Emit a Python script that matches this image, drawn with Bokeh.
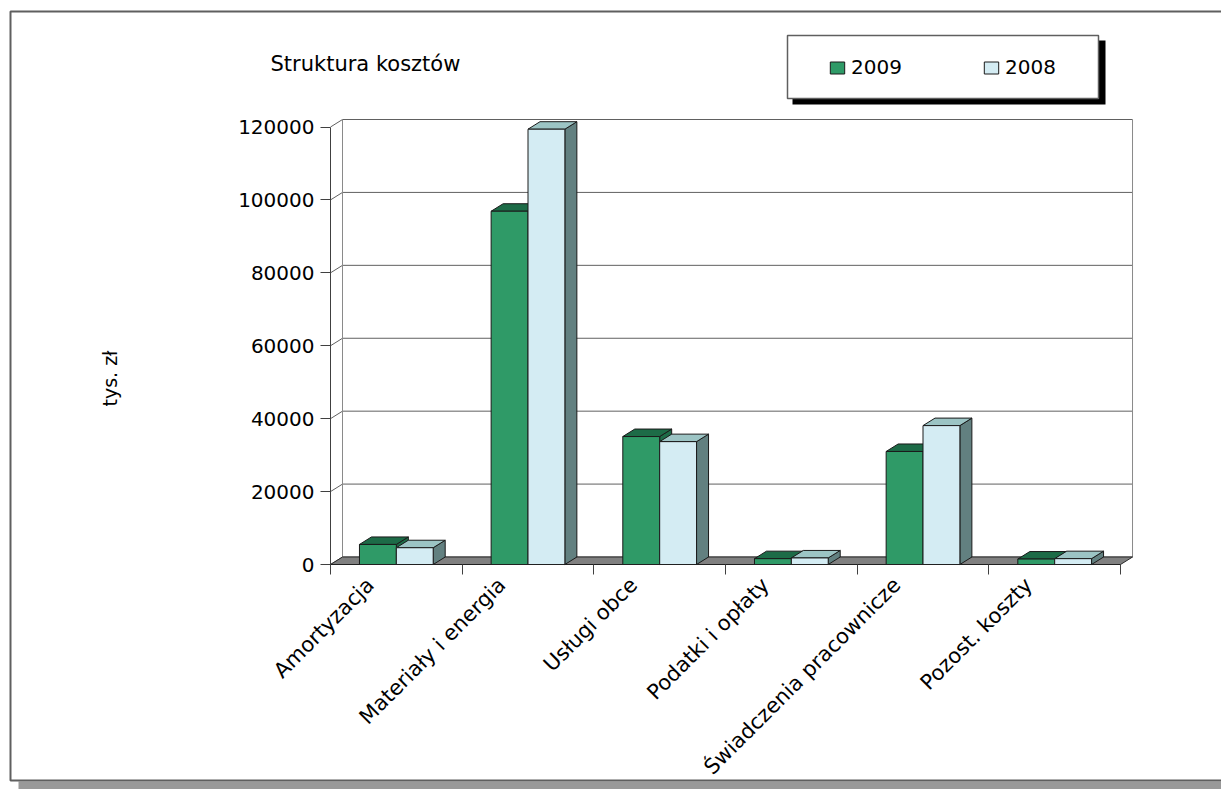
import numpy as np
from bokeh.plotting import figure
from bokeh.models import Range1d, LinearAxis, FixedTicker, Legend, LegendItem
from bokeh.core.properties import value
from bokeh.embed import file_html
from bokeh.resources import INLINE

# ---------------- data ----------------
categories = ["Amortyzacja", "Materiały i energia", "Usługi obce",
              "Podatki i opłaty", "Świadczenia pracownicze", "Pozost. koszty"]
series_names = ["2009", "2008"]
values_2009 = [5500, 96900, 35100, 1600, 31000, 1500]
values_2008 = [4600, 119400, 33700, 1800, 38100, 1600]
y_ticks = [0, 20000, 40000, 60000, 80000, 100000, 120000]
title_text = "Struktura kosztów"
y_label = "tys. zł"

# ---------------- geometry (pixel layout of the page) ----------------
W, H = 1221, 789
X0, CW = 330.0, 131.67          # px of first category edge, px per category
Y0, VS = 564.0, 437.5 / 120000  # px of zero, px per value unit
DXP, DYP = 12.0, 7.5            # depth offset in px

def PX(px):
    return (px - X0) / CW

def PY(py):
    return (Y0 - py) / VS

DX = DXP / CW
DY = DYP / VS
NC = len(categories)
BW = 0.28

FONT = "DejaVu Sans"
GREEN, GREEN_TOP = "#2f9a67", "#1d6b47"
LIGHT, LIGHT_TOP, LIGHT_SIDE = "#d4ecf3", "#9cc4c4", "#628080"
EDGE = "#1a1a1a"

p = figure(width=W, height=H, x_range=Range1d(PX(0), PX(W)), y_range=Range1d(PY(H), PY(0)),
           output_backend="svg", toolbar_location=None, min_border=0,
           x_axis_location=None, y_axis_location=None,
           outline_line_color=None, background_fill_color="white", border_fill_color="white")
p.grid.visible = False

# outer chart area with shadow
p.quad(left=[PX(18)], right=[PX(1240)], top=[PY(781)], bottom=[PY(800)],
       fill_color="#999999", line_color=None)
p.quad(left=[PX(10)], right=[PX(1240)], top=[PY(11)], bottom=[PY(780)],
       fill_color="white", line_color="#5f5f5f", line_width=2)

# back wall gridlines + left wall connectors
yt = np.array(y_ticks, dtype=float)
p.segment(x0=[DX] * len(yt), y0=yt + DY, x1=[NC + DX] * len(yt), y1=yt + DY,
          line_color="#606060", line_width=1)
p.segment(x0=[0] * len(yt), y0=yt, x1=[DX] * len(yt), y1=yt + DY,
          line_color="#606060", line_width=1)
p.segment(x0=[DX, NC + DX], y0=[DY, DY], x1=[DX, NC + DX], y1=[yt.max() + DY] * 2,
          line_color="#8a8a8a", line_width=1)

# floor
p.patch(x=[0, NC, NC + DX, DX], y=[0, 0, DY, DY], fill_color="#808080",
        line_color="#2a2a2a", line_width=1)

# bars
def faces(vals, offset):
    l = np.arange(NC) + 0.5 + offset
    r = l + BW
    v = np.array(vals, dtype=float)
    top_x = [[a, b, b + DX, a + DX] for a, b in zip(l, r)]
    top_y = [[h, h, h + DY, h + DY] for h in v]
    side_x = [[b, b + DX, b + DX, b] for b in r]
    side_y = [[0, DY, h + DY, h] for h in v]
    return l, r, v, top_x, top_y, side_x, side_y

gl, gr, gv, gtx, gty, gsx, gsy = faces(values_2009, -BW)
ll, lr, lv, ltx, lty, lsx, lsy = faces(values_2008, 0.0)

p.patches(xs=gsx, ys=gsy, fill_color=GREEN_TOP, line_color=EDGE, line_width=1)
p.patches(xs=gtx, ys=gty, fill_color=GREEN_TOP, line_color=EDGE, line_width=1)
gf = p.quad(left=gl, right=gr, bottom=0, top=gv, fill_color=GREEN, line_color=EDGE, line_width=1)
p.patches(xs=lsx, ys=lsy, fill_color=LIGHT_SIDE, line_color=EDGE, line_width=1)
p.patches(xs=ltx, ys=lty, fill_color=LIGHT_TOP, line_color=EDGE, line_width=1)
lf = p.quad(left=ll, right=lr, bottom=0, top=lv, fill_color=LIGHT, line_color=EDGE, line_width=1)

# axes
yaxis = LinearAxis(fixed_location=0, ticker=FixedTicker(ticks=y_ticks), bounds=(0, max(y_ticks)))
yaxis.major_tick_out = 10
yaxis.major_tick_in = 0
yaxis.minor_tick_line_color = None
yaxis.axis_line_color = "#404040"
yaxis.major_tick_line_color = "#404040"
yaxis.major_label_standoff = 6
yaxis.major_label_text_font = FONT
yaxis.major_label_text_font_size = "20px"
yaxis.major_label_text_color = "black"
yaxis.formatter.use_scientific = False
p.add_layout(yaxis, "left")

xaxis = LinearAxis(fixed_location=0, ticker=FixedTicker(ticks=list(range(NC + 1))), bounds=(0, NC))
xaxis.major_tick_out = 10
xaxis.major_tick_in = 0
xaxis.minor_tick_line_color = None
xaxis.axis_line_color = "#202020"
xaxis.major_tick_line_color = "#404040"
xaxis.major_label_overrides = {i: "" for i in range(NC + 1)}
p.add_layout(xaxis, "below")

# category labels
p.text(x=np.arange(NC) + 0.5, y=[0] * NC, text=categories, angle=np.pi / 4,
       text_align="right", text_baseline="middle", x_offset=-26, y_offset=17,
       text_font=value(FONT), text_font_size="21px", text_color="black")

# title and axis title
p.text(x=[PX(270)], y=[PY(63)], text=[title_text], text_align="left",
       text_baseline="alphabetic", text_font=value(FONT), text_font_size="21px",
       text_color="black")
p.text(x=[PX(109)], y=[PY(378)], text=[y_label], angle=np.pi / 2, text_align="center",
       text_baseline="middle", text_font=value(FONT), text_font_size="19px",
       text_color="black")

# legend box + shadow
p.quad(left=[PX(792)], right=[PX(1105)], top=[PY(40)], bottom=[PY(104)],
       fill_color="black", line_color=None)
p.quad(left=[PX(787)], right=[PX(1098)], top=[PY(35)], bottom=[PY(98)],
       fill_color="white", line_color="#5f5f5f", line_width=1.5)

legend = Legend(items=[LegendItem(label=series_names[0], renderers=[gf]),
                       LegendItem(label=series_names[1], renderers=[lf])],
                orientation="horizontal", location=(818, H - 89),
                padding=10, spacing=80, margin=0, glyph_width=18, glyph_height=15,
                label_standoff=5, label_width=51,
                label_text_font=FONT, label_text_font_size="20px",
                label_text_color="black",
                border_line_alpha=0, background_fill_alpha=0)
p.add_layout(legend)

open("out.html", "w").write(file_html(p, INLINE))
